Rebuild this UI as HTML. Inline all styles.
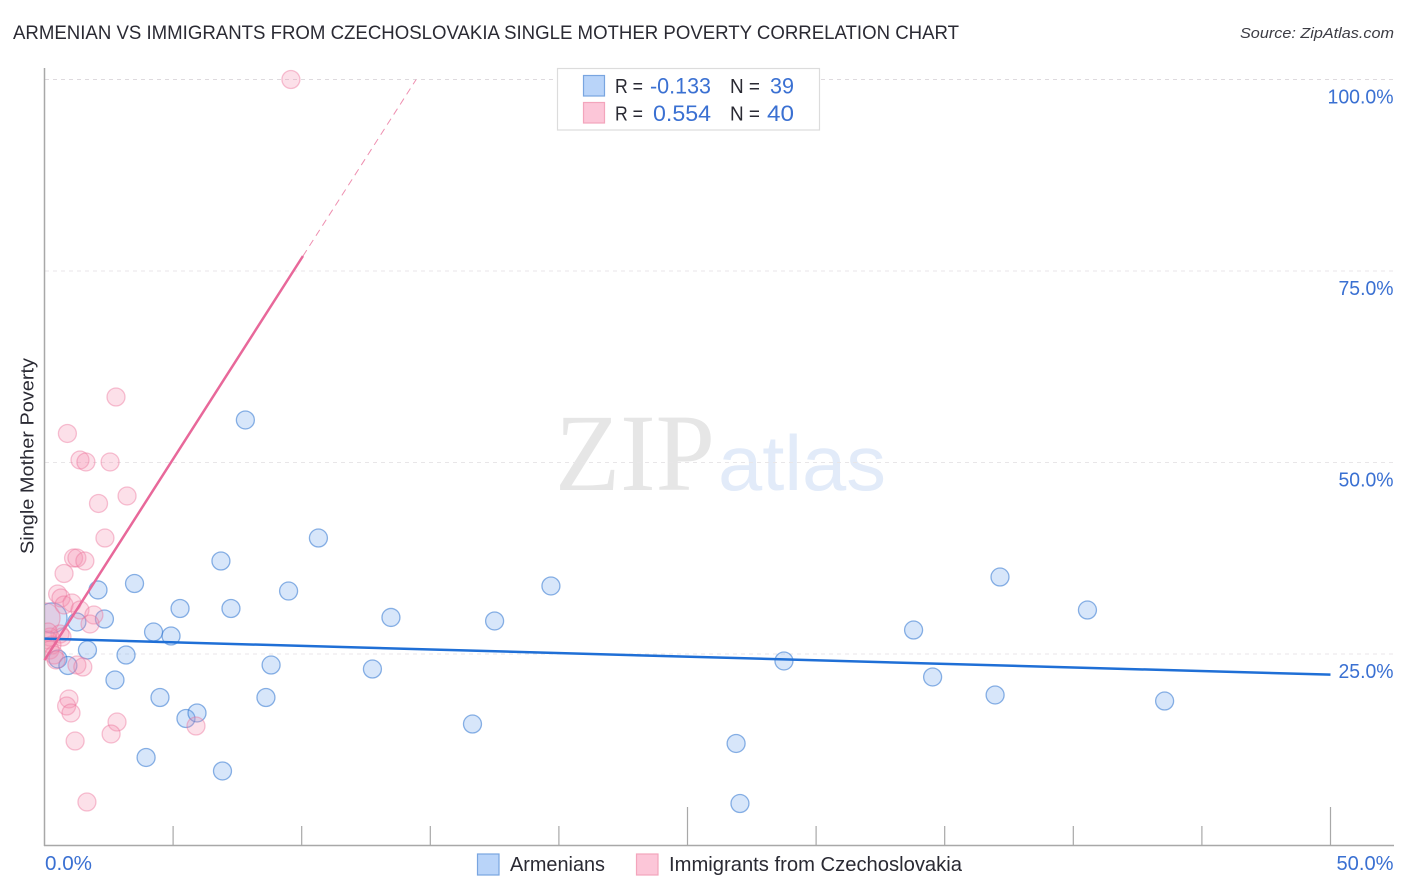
<!DOCTYPE html>
<html lang="en">
<head>
<meta charset="utf-8">
<title>Armenian vs Immigrants from Czechoslovakia Single Mother Poverty Correlation Chart</title>
<style>
html,body{margin:0;padding:0;background:#fff;width:1406px;height:892px;overflow:hidden}
svg{display:block;font-family:"Liberation Sans",sans-serif}
</style>
</head>
<body>
<svg id="chart" width="1406" height="892" viewBox="0 0 1406 892" xmlns="http://www.w3.org/2000/svg">
  <defs><clipPath id="plot-clip"><rect x="45" y="60" width="1349" height="786"/></clipPath></defs>
  <text x="13" y="39" font-size="19" fill="#2a2a33" textLength="946" lengthAdjust="spacingAndGlyphs">ARMENIAN VS IMMIGRANTS FROM CZECHOSLOVAKIA SINGLE MOTHER POVERTY CORRELATION CHART</text>
  <text x="1394" y="38" font-size="15" font-style="italic" fill="#3c3c44" text-anchor="end" textLength="154" lengthAdjust="spacingAndGlyphs">Source: ZipAtlas.com</text>
  <g>
    <text x="555" y="490" font-family="'Liberation Serif',serif" font-size="110" fill="#e6e6e6" textLength="160" lengthAdjust="spacingAndGlyphs">ZIP</text>
    <text x="718" y="490" font-size="78" fill="#e2ebf9" textLength="168" lengthAdjust="spacingAndGlyphs">atlas</text>
  </g>
  <g id="grid"></g>
  <g id="axes"></g>
  <g id="marks-blue" clip-path="url(#plot-clip)"></g>
  <g id="marks-pink" clip-path="url(#plot-clip)"></g>
  <g id="trends"></g>
  <text transform="translate(33.5 456) rotate(-90)" font-size="18.5" fill="#2a2a33" text-anchor="middle" textLength="196" lengthAdjust="spacingAndGlyphs">Single Mother Poverty</text>
  <g>
    <rect x="557.5" y="68.5" width="262" height="61.5" fill="#fff" stroke="#dcdcdc" stroke-width="1.2"/>
    <rect x="583.5" y="75.5" width="21" height="20.5" fill="#b9d4f9" stroke="#79a5e0" stroke-width="1.2"/>
    <rect x="583.5" y="102.5" width="21" height="20.5" fill="#fcc6d8" stroke="#f3a5bc" stroke-width="1.2"/>
    <g font-size="20" fill="#2a2a33">
      <text x="615" y="93" textLength="28" lengthAdjust="spacingAndGlyphs">R =</text>
      <text x="730" y="93" textLength="30" lengthAdjust="spacingAndGlyphs">N =</text>
      <text x="615" y="120.5" textLength="28" lengthAdjust="spacingAndGlyphs">R =</text>
      <text x="730" y="120.5" textLength="30" lengthAdjust="spacingAndGlyphs">N =</text>
    </g>
    <g font-size="22" fill="#3a70d2">
      <text x="650" y="93.5" textLength="61" lengthAdjust="spacingAndGlyphs">-0.133</text>
      <text x="770" y="93.5" textLength="24" lengthAdjust="spacingAndGlyphs">39</text>
      <text x="653" y="121" textLength="58" lengthAdjust="spacingAndGlyphs">0.554</text>
      <text x="767" y="121" textLength="27" lengthAdjust="spacingAndGlyphs">40</text>
    </g>
  </g>
  <g>
    <g>
      <rect x="477.5" y="854" width="21.5" height="21" fill="#b9d4f9" stroke="#79a5e0" stroke-width="1.2"/>
      <text x="510" y="871" font-size="20" fill="#2a2a33" textLength="95" lengthAdjust="spacingAndGlyphs">Armenians</text>
    </g>
    <g>
      <rect x="636.5" y="854" width="21.5" height="21" fill="#fcc6d8" stroke="#f3a5bc" stroke-width="1.2"/>
      <text x="669" y="871" font-size="20" fill="#2a2a33" textLength="293" lengthAdjust="spacingAndGlyphs">Immigrants from Czechoslovakia</text>
    </g>
  </g>
</svg>
<script>
const yTickValues = [25, 50, 75, 100];
const yTickLabels = ['25.0%', '50.0%', '75.0%', '100.0%'];
const xTickValues = [5, 10, 15, 20, 25, 30, 35, 40, 45, 50];
const xMajorTicks = [25, 50];
const xEndValues = [0, 50];
const xEndLabels = ['0.0%', '50.0%'];

const armenianX = [7.81,10.65,6.86,3.50,2.08,9.49,5.27,7.25,2.33,1.26,13.47,17.50,19.69,37.15,40.55,33.79,4.24,4.92,1.67,3.17,8.81,12.75,28.75,0.52,0.91,2.74,4.49,8.61,34.53,36.96,43.55,5.50,5.93,16.64,26.89,3.95,6.92,27.04,0.29];
const armenianY = [55.55,40.14,37.14,34.20,33.36,33.22,30.94,30.94,29.57,29.18,29.77,29.31,33.88,35.05,30.74,28.13,27.87,27.35,25.52,24.87,23.56,23.04,24.09,24.35,23.50,21.61,19.32,19.32,22.00,19.65,18.86,16.58,17.30,15.86,13.32,11.49,9.73,5.48,29.70];
const armenianWeight = [1,1,1,1,1,1,1,1,1,1,1,1,1,1,1,1,1,1,1,1,1,1,1,1,1,1,1,1,1,1,1,1,1,1,1,1,1,1,2.8];

const czechX = [9.58,2.78,0.89,1.38,1.61,2.55,3.21,2.10,2.35,1.13,1.26,1.57,0.76,0.51,0.64,0.76,1.07,1.38,1.92,1.77,0.02,0.60,0.68,0.21,0.14,0.29,0.21,0.37,0.45,1.26,1.49,0.95,0.86,1.03,2.82,2.59,5.89,1.19,1.65,0.14];
const czechY = [100,58.55,53.79,50.33,50.07,50.07,45.63,44.65,40.14,37.53,37.53,37.14,35.51,32.83,32.31,31.40,31.66,30.74,30.09,28.92,29.70,27.61,27.22,27.22,26.83,26.17,25.52,24.87,24.22,23.56,23.30,19.13,18.21,17.30,16.12,14.56,15.60,13.64,5.68,27.87];
const czechWeight = [1,1,1,1,1,1,1,1,1,1,1,1,1,1,1,1,1,1,1,1,2.8,1,1,1,1,1,1,1,1,1,1,1,1,1,1,1,1,1,1,1];

const armenianTrendX = [0, 50];
const armenianTrendY = [27.0, 22.3];
const czechTrendX = [0, 10.05];
const czechTrendY = [24.2, 76.96];
const czechTrendExtX = [10.05, 14.45];
const czechTrendExtY = [76.96, 100];

const NS = 'http://www.w3.org/2000/svg';
const sx = v => 44.5 + v * 25.72;
const sy = v => 845.5 - v * 7.66;
const sr = w => 9 * Math.sqrt(w);
function mk(tag, parent, attrs) {
  const el = document.createElementNS(NS, tag);
  for (const k in attrs) el.setAttribute(k, attrs[k]);
  parent.appendChild(el);
  return el;
}
const grid = document.getElementById('grid');
const axes = document.getElementById('axes');
const blue = document.getElementById('marks-blue');
const pink = document.getElementById('marks-pink');
const trends = document.getElementById('trends');

yTickValues.forEach((v, i) => {
  const ln = mk('line', grid, {x1: 45, x2: 1393, y1: sy(v), y2: sy(v), stroke: v === 100 ? '#dedade' : '#e8e6e8', 'stroke-width': 1, 'stroke-dasharray': '4 4'});
  
  
  const t = mk('text', axes, {x: 1393.5, y: sy(v) + 24, 'font-size': 20, fill: '#3a70d2', 'text-anchor': 'end', textLength: v === 100 ? 66 : 55, lengthAdjust: 'spacingAndGlyphs'});
  t.textContent = yTickLabels[i];
  
  
});

const yAxis = mk('line', axes, {x1: 44.5, x2: 44.5, y1: 68, y2: 846, stroke: '#a8a8a8', 'stroke-width': 1.5});


const xAxis = mk('line', axes, {x1: 44, x2: 1394, y1: 845.5, y2: 845.5, stroke: '#a8a8a8', 'stroke-width': 1.5});



xTickValues.forEach(v => {
  const tick = mk('line', axes, {x1: sx(v), x2: sx(v), y1: xMajorTicks.includes(v) ? 807 : 826, y2: 845.5, stroke: '#a8a8a8', 'stroke-width': 1.2});
  
  
});
xEndValues.forEach((v, i) => {
  const t = mk('text', axes, {x: i === 0 ? sx(v) + 0.5 : sx(v) + 63, y: 870, 'font-size': 20, fill: '#3a70d2', 'text-anchor': i === 0 ? 'start' : 'end', textLength: i === 0 ? 47 : 57, lengthAdjust: 'spacingAndGlyphs'});
  t.textContent = xEndLabels[i];
  
  
});

armenianX.forEach((v, i) => {
  const c = mk('circle', blue, {cx: sx(v), cy: sy(armenianY[i]), r: sr(armenianWeight[i]), fill: '#6ea5ec', 'fill-opacity': 0.28, stroke: '#2f74d0', 'stroke-opacity': 0.55, 'stroke-width': 1.3});
  
  
});
czechX.forEach((v, i) => {
  const c = mk('circle', pink, {cx: sx(v), cy: sy(czechY[i]), r: sr(czechWeight[i]), fill: '#f48fb1', 'fill-opacity': 0.28, stroke: '#ec6f98', 'stroke-opacity': 0.42, 'stroke-width': 1.3});
  
  
});

const trendBlue = mk('line', trends, {x1: sx(armenianTrendX[0]), y1: sy(armenianTrendY[0]), x2: sx(armenianTrendX[1]), y2: sy(armenianTrendY[1]), stroke: '#1f6fd6', 'stroke-width': 2.5});


const trendPink = mk('line', trends, {x1: sx(czechTrendX[0]), y1: sy(czechTrendY[0]), x2: sx(czechTrendX[1]), y2: sy(czechTrendY[1]), stroke: '#e8689a', 'stroke-width': 2.5});


const trendExt = mk('line', trends, {x1: sx(czechTrendExtX[0]), y1: sy(czechTrendExtY[0]), x2: sx(czechTrendExtX[1]), y2: sy(czechTrendExtY[1]), stroke: '#ee8fb0', 'stroke-width': 1, 'stroke-dasharray': '7 5'});


</script>
</body>
</html>
